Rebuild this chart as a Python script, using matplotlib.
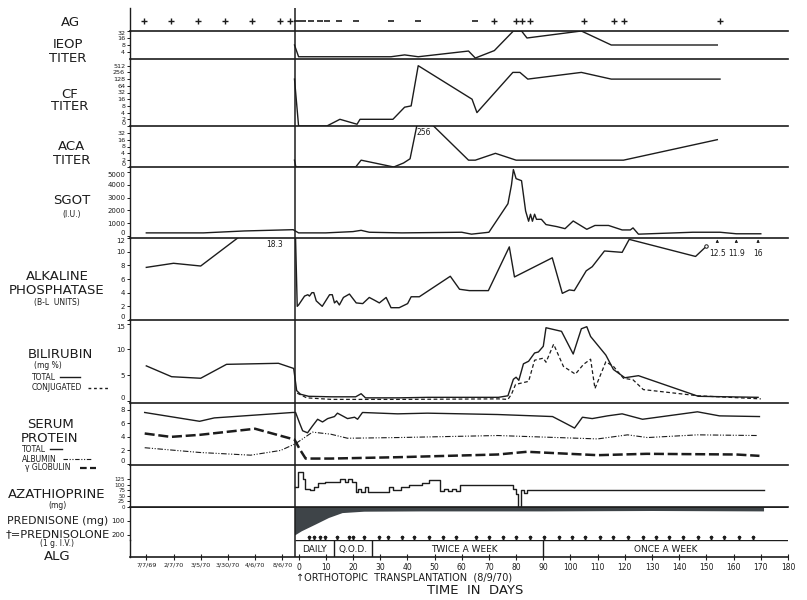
import matplotlib
matplotlib.use("Agg")
import matplotlib.pyplot as plt
import numpy as np
from matplotlib.lines import Line2D

plt.rcParams['font.family'] = ['DejaVu Sans']

INK = '#1c1c1c'

# ---- data (x = days from transplant; pre-transplant dates sit at negative days) ----
date_ticks = [-56, -46, -36, -26, -16, -6]
date_labels = ['7/7/69', '2/7/70', '3/5/70', '3/30/70', '4/6/70', '8/6/70']
day_ticks = list(range(0, 181, 10))

ag_plus_days = [-57, -47, -37, -27, -17, -7, -3.3, 72, 80, 82, 85, 105, 116, 119.5, 155]
ag_minus_days = [-0.7, 1.8, 4.4, 7.7, 10.3, 14.7, 21, 34, 44, 65]

ieop_days = [-1.5, 0, 34, 39, 44, 62.5, 65, 72, 79, 82, 84, 104, 115, 154]
ieop_vals = [8, 2.5, 2.5, 3, 2.5, 4.4, 2.2, 4.6, 32, 32, 16, 32, 8, 8]

cf_days = [-1.5, 0, 10.4, 15.2, 21.5, 22.6, 34.7, 39, 41.4, 44, 63.8, 65.6, 78.8, 81.4, 84.3, 104, 115, 155]
cf_vals = [128, 1, 1, 2, 1.2, 2, 2, 7, 8, 512, 16, 4, 256, 256, 128, 256, 128, 128]

aca_days = [-1.5, -1, 21, 23, 35, 38.6, 41, 44.5, 62.5, 65, 72.4, 80, 119.5, 154]
aca_vals = [2, 1, 1, 2, 1, 1.5, 2.3, 256, 2, 2, 4, 2, 2, 16]

sgot_days = [-56, -35, -20, -2, 0, 10, 20, 23, 26, 38, 60, 63.6, 70, 77, 78.3, 79, 80, 82, 83.5,
             84.6, 85.3, 86, 86.8, 87.5, 89.3, 91, 95, 98, 101, 106, 109, 114, 119, 122, 123,
             125, 145, 155, 161, 170]
sgot_vals = [250, 250, 400, 500, 250, 250, 350, 450, 300, 250, 300, 150, 300, 2530, 4000, 5200,
             4490, 4330, 1960, 1160, 1710, 1160, 1710, 1310, 1310, 900, 740, 580, 1180, 530, 830,
             830, 480, 480, 640, 150, 300, 300, 180, 180]

alk_days = [-56, -46, -36, -1.5, -0.5, 0, 2.2, 3.4, 4, 4.9, 5.6, 6.5, 8.7, 11.4, 12.4, 13.2, 14,
            15, 16.5, 18.7, 21.2, 23.6, 26, 27.9, 29.7, 32.2, 34, 37, 40.1, 41.4, 44.4, 55.8,
            59.2, 62.8, 69.8, 77.5, 79.4, 93.3, 97, 99.6, 101.4, 105.8, 108, 112.5, 119, 121.6,
            146, 150]
alk_vals = [7.7, 8.3, 7.9, 18.3, 2.0, 2.2, 3.5, 3.7, 3.5, 4.0, 4.0, 2.8, 2.0, 3.7, 3.7, 2.5, 2.8,
            2.2, 3.3, 3.8, 2.5, 2.4, 3.3, 2.9, 2.5, 3.3, 1.8, 1.8, 2.4, 3.4, 3.4, 6.4, 4.5, 4.3,
            4.3, 10.7, 6.3, 9.1, 3.9, 4.4, 4.3, 7.2, 7.8, 10.1, 9.9, 11.8, 9.3, 10.8]
alk_off_days = [154, 161, 169]
alk_off_text = ['12.5', '11.9', '16']

bili_days = [-56, -46.7, -36, -26.5, -7.4, -1.8, -0.7, 0.7, 3.7, 12, 21, 23, 24.6, 36.8, 47.8,
             73.5, 77, 79, 80, 81, 82.7, 84.6, 86.8, 88.2, 90, 91, 96.7, 101, 104, 106, 107.4,
             113, 115.8, 120, 125, 147, 169]
bili_total = [6.8, 4.7, 4.4, 7.1, 7.3, 6.3, 2.0, 1.3, 0.9, 0.8, 0.8, 1.4, 0.6, 0.6, 0.7, 0.7, 1.0,
              4.2, 4.6, 4.0, 7.2, 7.7, 9.3, 9.5, 10.6, 14.2, 13.5, 9.1, 14.0, 14.4, 12.5, 8.9,
              6.1, 4.5, 4.9, 0.9, 0.7]
conj_days = [-0.5, 3, 12, 36.8, 73.5, 77, 78.3, 79.8, 84.6, 86.8, 90, 91, 93.8, 97.4, 101.8,
             104.8, 107.4, 109, 113, 115.8, 119.5, 123, 126.8, 147, 170]
conj_vals = [1.5, 0.6, 0.3, 0.3, 0.4, 0.3, 1.3, 3.2, 3.8, 7.9, 8.3, 7.5, 11.0, 6.7, 5.2, 7.1,
             8.1, 2.4, 7.6, 6.7, 4.4, 4.1, 2.2, 1.0, 0.4]

prot_days = [-56.6, -36.4, -31, -2.2, -1.1, 0.4, 1.5, 3.3, 5.1, 7, 8.8, 10.7, 13.2, 14.3, 18,
             20.6, 21.7, 23.5, 36.4, 47.4, 73.2, 93.4, 98.2, 101.5, 104.4, 108, 113.6, 119,
             126.5, 146.7, 154.8, 169.5]
prot_total = [7.6, 6.3, 6.8, 7.6, 7.6, 6.0, 4.9, 4.6, 5.6, 6.6, 6.2, 6.7, 7.0, 7.5, 6.7, 6.9,
              6.6, 7.6, 7.4, 7.5, 7.3, 7.0, 6.0, 5.3, 6.9, 6.7, 7.1, 7.4, 6.6, 7.7, 7.1, 7.0]
alb_days = [-56.6, -36.4, -17.6, -6.6, -1.1, 5.1, 11.8, 18, 36.4, 73.2, 110, 121, 128.3, 146.7, 168.8]
alb_vals = [2.4, 1.7, 1.3, 2.0, 3.0, 4.7, 4.4, 3.8, 3.9, 4.2, 3.7, 4.3, 3.9, 4.3, 4.2]
glob_days = [-56.6, -47, -36.4, -16, -1.5, 0.4, 2.6, 11.8, 36.4, 73.2, 84, 110, 128, 161, 169.5]
glob_vals = [4.5, 4.0, 4.3, 5.2, 3.6, 2.2, 0.8, 0.8, 1.0, 1.4, 1.8, 1.3, 1.5, 1.4, 1.2]

aza_days = [-1.5, -0.3, 1.5, 2.2, 4.2, 5.5, 7.3, 9.7, 15.3, 17.1, 18.3, 19.6, 21.2, 22, 22.8,
            24.5, 25.5, 33.2, 34.6, 37.5, 40.5, 45.3, 47.8, 52, 53.5, 55, 56.5, 58, 59.4, 79, 80,
            80.8, 81.7, 83, 84, 171]
aza_vals = [87, 154, 124, 82, 77, 91, 106, 112, 124, 112, 124, 112, 65, 80, 65, 87, 65, 91, 77,
            87, 97, 109, 119, 71, 80, 71, 80, 71, 98, 79, 57, 0, 74, 62, 74, 74]

pred_days = [-1.5, 1, 6, 11, 16, 24, 45, 90, 130, 171]
pred_vals = [200, 170, 123, 75, 40, 30, 28, 28, 25, 28]
solone_days = [3.7, 5.5, 7.7, 9.6, 14, 18.4, 19.9, 24, 29.4, 33, 37.9, 42.6, 48, 53, 58, 65.4, 70,
               75, 80, 85, 90.4, 95.6, 100.4, 105.5, 110.7, 115.8, 121, 126.5, 131.6, 136.4,
               141.5, 147, 151.8, 156.6, 161.8, 167]

alg_edges = [-1.5, 13, 27, 90, 180]
alg_names = ['DAILY', 'Q.O.D.', 'TWICE A WEEK', 'ONCE A WEEK']
alg_text_x = [5.8, 20, 61, 135]

# ---- figure ----
fig = plt.figure(figsize=(8.07, 6.0), dpi=100)
W, H = 807.0, 600.0
L_PX, R_PX = 130, 788


def panel(top, bot):
    a = fig.add_axes([L_PX / W, 1 - bot / H, (R_PX - L_PX) / W, (bot - top) / H])
    a.set_xlim(-62, 180)
    a.patch.set_alpha(0)
    a.spines['top'].set_visible(False)
    a.spines['right'].set_visible(False)
    a.spines['left'].set_linewidth(1.0)
    a.spines['bottom'].set_linewidth(1.2)
    a.spines['left'].set_color(INK)
    a.spines['bottom'].set_color(INK)
    a.tick_params(axis='x', bottom=False, labelbottom=False)
    a.tick_params(axis='y', labelsize=5, length=2.5, width=0.7, pad=1, colors=INK)
    a.axvline(-1.5, color=INK, lw=1.1)
    return a


def edges(a, bottom=True, top=True):
    # keep the end labels inside their own band so neighbouring panels do not collide
    labs = a.get_yticklabels()
    if bottom:
        labs[0].set_va('bottom')
    if top:
        labs[-1].set_va('top')


def label(x, y, s, size=9.5, ha='center'):
    fig.text(x / W, 1 - y / H, s, fontsize=size, ha=ha, va='center', color=INK)


def sample(x0, x1, y, ls, lw=1.0):
    fig.add_artist(Line2D([x0 / W, x1 / W], [1 - y / H, 1 - y / H], transform=fig.transFigure,
                          color=INK, ls=ls, lw=lw))


kw = dict(color=INK, lw=1.0)

# AG
ax = panel(8, 31)
ax.set_ylim(0, 1)
ax.set_yticks([])
ax.plot(ag_plus_days, [0.45] * len(ag_plus_days), ls='none', marker='+', ms=5, mew=1, color=INK)
ax.plot(ag_minus_days, [0.45] * len(ag_minus_days), ls='none', marker='_', ms=4.5, mew=1.2, color=INK)

# IEOP titer
ax = panel(31, 59)
ax.plot(ieop_days, np.log2(ieop_vals), **kw)
ax.set_ylim(1, 5)
ax.set_yticks([2, 3, 4, 5])
ax.set_yticklabels(['4', '8', '16', '32'])
ax.tick_params(axis='y', labelsize=4.6)
edges(ax, bottom=False)

# CF titer
ax = panel(59, 126)
ax.plot(cf_days, np.log2(cf_vals), **kw)
ax.set_ylim(0, 10)
ax.set_yticks(range(10))
ax.set_yticklabels(['0', '2', '4', '8', '16', '32', '64', '128', '256', '512'])
ax.tick_params(axis='y', labelsize=4.6)
edges(ax, top=False)

# ACA titer
ax = panel(126, 167)
ax.plot(aca_days, np.log2(aca_vals), **kw)
ax.set_ylim(0, 6)
ax.set_yticks(range(6))
ax.set_yticklabels(['0', '2', '4', '8', '16', '32'])
ax.tick_params(axis='y', labelsize=4.6)
edges(ax, top=False)
ax.text(46, 5.0, '256', fontsize=5.5, ha='center', va='center', color=INK)

# SGOT
ax = panel(167, 238)
ax.plot(sgot_days, sgot_vals, **kw)
ax.set_ylim(-150, 5400)
ax.set_yticks(range(0, 5001, 1000))
edges(ax)

# Alkaline phosphatase
ax = panel(238, 320)
ax.plot(alk_days, alk_vals, **kw)
ax.plot(alk_days[-1], alk_vals[-1], marker='o', ms=2.5, mfc='white', mec=INK, mew=0.7)
ax.set_ylim(0, 12)
ax.set_yticks(range(0, 13, 2))
edges(ax)
ax.text(-9, 11.1, '18.3', fontsize=5.5, ha='center', va='center', color=INK)
for d, t in zip(alk_off_days, alk_off_text):
    ax.annotate(t, xy=(d, 11.8), xytext=(d, 9.8), fontsize=5.5, ha='center', va='center',
                color=INK, arrowprops=dict(arrowstyle='-|>', lw=0.6, color=INK,
                                           mutation_scale=4, shrinkA=3, shrinkB=0))

# Bilirubin
ax = panel(320, 403)
ax.plot(bili_days, bili_total, **kw)
ax.plot(conj_days, conj_vals, color=INK, lw=0.9, ls=(0, (3, 2)))
ax.set_ylim(-0.4, 15.7)
ax.set_yticks([0, 5, 10, 15])
edges(ax)

# Serum protein
ax = panel(403, 465)
ax.plot(prot_days, prot_total, **kw)
ax.plot(alb_days, alb_vals, color=INK, lw=0.8, ls=(0, (5, 1.5, 1, 1.5, 1, 1.5)))
ax.plot(glob_days, glob_vals, color=INK, lw=1.8, ls=(0, (4, 1.5)))
ax.set_ylim(-0.15, 9)
ax.set_yticks([0, 2, 4, 6, 8])
edges(ax, top=False)

# Azathioprine
ax = panel(465, 507)
ax.step(aza_days, aza_vals, where='post', **kw)
ax.set_ylim(0, 187)
ax.set_yticks(range(0, 126, 25))
ax.tick_params(axis='y', labelsize=4.0)

# Prednisone / prednisolone
ax = panel(507, 540)
ax.spines['bottom'].set_visible(False)
ax.fill_between(pred_days, 0, pred_vals, color='#3e4448', lw=0)
ax.axhline(0, color=INK, lw=1.3)
ax.plot(solone_days, [224] * len(solone_days), ls='none', marker=r'$\uparrow$', ms=3.2,
        color=INK)
ax.set_ylim(236, 0)
ax.set_yticks([100, 200])

# ALG + time axis
ax = panel(540, 557)
ax.set_ylim(0, 1)
ax.set_yticks([])
ax.hlines(1, alg_edges[0], alg_edges[-1], color=INK, lw=1.0)
ax.vlines(alg_edges[1:-1], 0, 1, color=INK, lw=1.0)
for x, s in zip(alg_text_x, alg_names):
    ax.text(x, 0.45, s, fontsize=6.5, ha='center', va='center', color=INK)
ax.set_xticks(date_ticks + day_ticks)
ax.set_xticklabels(date_labels + [str(d) for d in day_ticks])
ax.tick_params(axis='x', bottom=True, labelbottom=True, direction='inout', length=4,
               width=0.8, labelsize=5.5, pad=2, colors=INK)
for t in ax.get_xticklabels()[:len(date_labels)]:
    t.set_fontsize(4.6)

label(296, 578, '\u2191ORTHOTOPIC  TRANSPLANTATION  (8/9/70)', size=7, ha='left')
label(475, 590, 'TIME  IN  DAYS', size=9.5)

# ---- left-hand labels ----
label(70, 22, 'AG')
label(68, 44, 'IEOP')
label(68, 58, 'TITER')
label(70, 95, 'CF')
label(70, 107, 'TITER')
label(72, 147, 'ACA')
label(72, 161, 'TITER')
label(72, 201, 'SGOT')
label(72, 214, '(I.U.)', size=5.5)
label(57, 276, 'ALKALINE')
label(57, 290, 'PHOSPHATASE')
label(57, 302, '(B-L  UNITS)', size=5.5)
label(60, 354, 'BILIRUBIN')
label(48, 366, '(mg %)', size=5.5)
label(32, 377, 'TOTAL', size=5.5, ha='left')
sample(60, 80, 377, '-')
label(32, 388, 'CONJUGATED', size=5.5, ha='left')
sample(88, 108, 388, (0, (2, 2)))
label(50, 424, 'SERUM')
label(50, 438, 'PROTEIN')
label(22, 449, 'TOTAL', size=5.5, ha='left')
sample(50, 62, 449, '-')
label(22, 459, 'ALBUMIN', size=5.5, ha='left')
sample(63, 92, 459, (0, (4, 1.5, 1, 1.5, 1, 1.5)), lw=0.8)
label(25, 468, '\u03b3 GLOBULIN', size=5.5, ha='left')
sample(80, 96, 468, (0, (3, 1.5)), lw=1.6)
label(57, 494, 'AZATHIOPRINE')
label(57, 505, '(mg)', size=5.5)
label(58, 521, 'PREDNISONE (mg)', size=7.8)
label(58, 534, '\u2020=PREDNISOLONE', size=8.2)
label(57, 544, '(1 g. I.V.)', size=5.5)
label(57, 556, 'ALG')

fig.savefig('out.png', dpi=100)
